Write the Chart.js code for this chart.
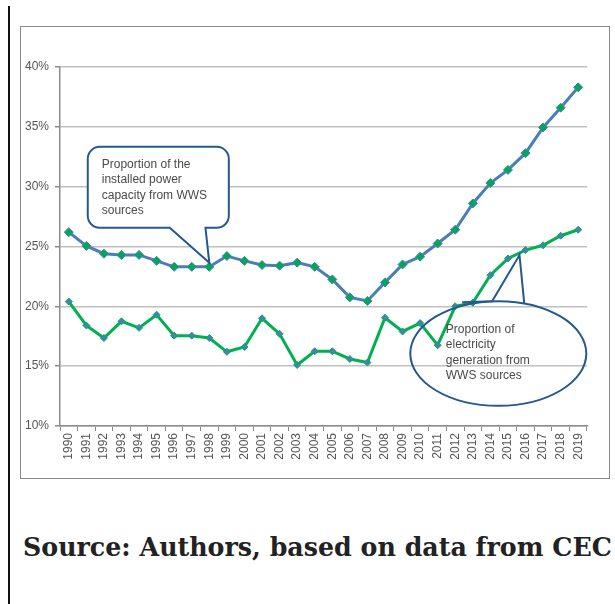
<!DOCTYPE html>
<html>
<head>
<meta charset="utf-8">
<script src="https://cdn.jsdelivr.net/npm/chart.js@4.4.1/dist/chart.umd.min.js"></script>
<style>
  html, body { margin: 0; padding: 0; background: #fff; }
  body { width: 615px; height: 604px; position: relative; overflow: hidden; }
  #vline { position: absolute; left: 8px; top: 6px; width: 2px; height: 598px; background: #111; }
  #frame { position: absolute; left: 20px; top: 26px; width: 588px; height: 451px; border: 1px solid #8a8a8a; }
  #wrap { position: absolute; left: 0; top: 0; width: 587px; height: 450px; }
  #source { position: absolute; left: 23px; top: 532px; font-family: "DejaVu Serif", serif; font-weight: bold; font-size: 25.3px; line-height: 30px; color: #222; white-space: nowrap; }
</style>
</head>
<body>
<div id="vline"></div>
<div id="frame"><div id="wrap"><canvas id="c" width="587" height="450"></canvas></div></div>
<div id="source">Source: Authors, based on data from CEC</div>
<script>
const years = ["1990","1991","1992","1993","1994","1995","1996","1997","1998","1999","2000","2001","2002","2003","2004","2005","2006","2007","2008","2009","2010","2011","2012","2013","2014","2015","2016","2017","2018","2019"];
const capacityShare = [26.2,25.05,24.4,24.3,24.3,23.8,23.3,23.3,23.3,24.2,23.8,23.45,23.4,23.65,23.3,22.25,20.75,20.45,22.0,23.5,24.15,25.25,26.4,28.6,30.3,31.4,32.8,34.95,36.6,38.3];
const generationShare = [20.4,18.4,17.35,18.75,18.2,19.3,17.55,17.55,17.35,16.2,16.6,19.0,17.7,15.1,16.25,16.25,15.6,15.3,19.05,17.9,18.6,16.75,20.0,20.3,22.6,24.0,24.7,25.1,25.9,26.4];
const yTicks = [10,15,20,25,30,35,40];
const capacityLabel = ["Proportion of the","installed power","capacity from WWS","sources"];
const generationLabel = ["Proportion of","electricity","generation from","WWS sources"];

const calloutColor = '#24598f';
const textColor = '#4a4a4a';
const labelFont = '12px "Liberation Sans", Arial, sans-serif';

const callouts = {
  id: 'callouts',
  afterDatasetsDraw(chart) {
    const ctx = chart.ctx;
    const xs = chart.scales.x, ys = chart.scales.y;
    const X = v => xs.getPixelForValue(v);
    const Y = v => ys.getPixelForValue(v);
    ctx.save();
    // rounded-rectangle callout pointing at 1998 capacity value
    const bx1 = X(1.08), bx2 = X(9.11), by1 = Y(33.33), by2 = Y(26.56);
    const r = 12;
    const tipX = X(8), tipY = Y(capacityShare[8]) - 4;
    const p1 = X(5.75), p2 = X(7.78);
    ctx.beginPath();
    ctx.moveTo(bx1 + r, by1);
    ctx.lineTo(bx2 - r, by1);
    ctx.arcTo(bx2, by1, bx2, by1 + r, r);
    ctx.lineTo(bx2, by2 - r);
    ctx.arcTo(bx2, by2, bx2 - r, by2, r);
    ctx.lineTo(p2, by2);
    ctx.lineTo(tipX, tipY);
    ctx.lineTo(p1, by2);
    ctx.lineTo(bx1 + r, by2);
    ctx.arcTo(bx1, by2, bx1, by2 - r, r);
    ctx.lineTo(bx1, by1 + r);
    ctx.arcTo(bx1, by1, bx1 + r, by1, r);
    ctx.closePath();
    ctx.fillStyle = '#ffffff';
    ctx.fill();
    ctx.lineWidth = 2;
    ctx.strokeStyle = calloutColor;
    ctx.stroke();
    ctx.fillStyle = textColor;
    ctx.font = labelFont;
    ctx.textBaseline = 'middle';
    ctx.textAlign = 'left';
    capacityLabel.forEach((t, i) => ctx.fillText(t, bx1 + 14, by1 + 17.5 + i * 15.5));

    // elliptical callout pointing at 2016 generation value
    const cx = X(24.45), cy = Y(16.06);
    const rx = X(24.45 + 5.01) - cx, ry = Y(16.06) - Y(16.06 + 4.375);
    const e1x = X(24.1), e1y = Y(20.42), etx = X(26) - 6, ety = Y(generationShare[26]) + 5, e2x = X(25.93), e2y = Y(20.2);
    ctx.beginPath();
    ctx.ellipse(cx, cy, rx, ry, 0, 0, Math.PI * 2);
    ctx.stroke();
    ctx.beginPath();
    ctx.moveTo(e1x - 30, e1y + 1);
    ctx.lineTo(e1x, e1y);
    ctx.lineTo(etx, ety);
    ctx.lineTo(e2x, e2y);
    ctx.stroke();
    ctx.fillStyle = textColor;
    generationLabel.forEach((t, i) => ctx.fillText(t, cx - 52.5, cy - 24 + i * 15.4));
    ctx.restore();
  }
};

new Chart(document.getElementById('c'), {
  type: 'line',
  data: {
    labels: years,
    datasets: [
      {
        label: 'Installed power capacity from WWS sources',
        data: capacityShare,
        borderColor: '#4a7ebb',
        borderWidth: 3,
        pointStyle: 'rectRot',
        pointRadius: 4.5,
        pointBackgroundColor: '#00a84f',
        pointBorderColor: '#4a7ebb',
        pointBorderWidth: 1,
        tension: 0
      },
      {
        label: 'Electricity generation from WWS sources',
        data: generationShare,
        borderColor: '#00b050',
        borderWidth: 3,
        pointStyle: 'rectRot',
        pointRadius: 3.5,
        pointBackgroundColor: '#4a7ebb',
        pointBorderColor: '#00b050',
        pointBorderWidth: 1,
        tension: 0
      }
    ]
  },
  options: {
    responsive: false,
    animation: false,
    layout: { padding: { left: 0, right: 21, top: 40, bottom: 0 } },
    plugins: { legend: { display: false }, tooltip: { enabled: false } },
    scales: {
      x: {
        offset: true,
        afterFit(scale) { scale.height = 51; },
        grid: { offset: true, drawOnChartArea: false, drawTicks: true, tickLength: 5, color: '#8c8c8c', lineWidth: 1 },
        border: { display: true, color: '#8c8c8c', width: 1.5 },
        ticks: { autoSkip: false, minRotation: 90, maxRotation: 90, padding: 2, color: '#555', font: { family: '"Liberation Sans", Arial, sans-serif', size: 12 } }
      },
      y: {
        min: 10, max: 40,
        afterFit(scale) { scale.width = 39; },
        afterBuildTicks(scale) { scale.ticks = yTicks.map(v => ({ value: v })); },
        grid: { color: '#c0c0c0', lineWidth: 1.5, tickLength: 5, tickColor: '#8c8c8c' },
        border: { display: true, color: '#8c8c8c', width: 1.5 },
        ticks: { padding: 6, color: '#555', callback: v => v + '%', font: { family: '"Liberation Sans", Arial, sans-serif', size: 12 } }
      }
    }
  },
  plugins: [callouts]
});
</script>
</body>
</html>
